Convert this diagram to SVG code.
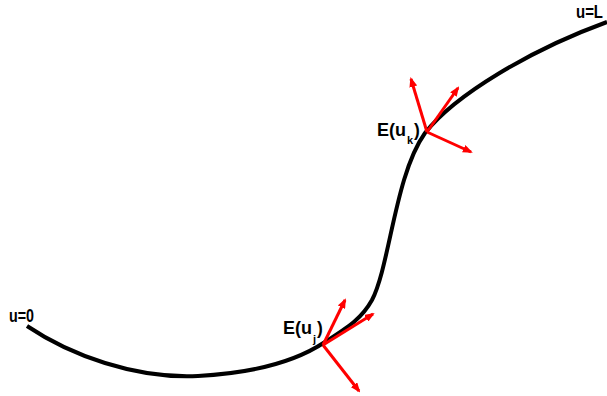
<svg xmlns="http://www.w3.org/2000/svg" width="607" height="396" viewBox="0 0 607 396">
<style>
.curve{fill:none;stroke:#000;stroke-width:4;stroke-linecap:butt}
.ax{stroke:#f00;stroke-width:3;fill:none}
text{font-family:"Liberation Sans",Arial,sans-serif;font-weight:bold;fill:#000;font-size:17.5px}
.sub{font-size:11px}
</style>
<defs>
<marker id="ah" markerWidth="10" markerHeight="8" refX="8" refY="4" orient="auto" markerUnits="userSpaceOnUse">
<path d="M0,0 L10,4 L0,8 z" fill="#f00"/>
</marker>
</defs>
<g id="connectors">
<path class="curve" d="M27,326 C70,355 135,379 198,376 C255,373 295,362 325,342 C350,326 362,318 372,300 C390,265 395,175 425,133 C455,95 530,50 607,22"/>
</g>
<g id="frame-j">
<line class="ax" x1="323" y1="345" x2="345" y2="300" marker-end="url(#ah)"/>
<line class="ax" x1="323" y1="345" x2="373" y2="314" marker-end="url(#ah)"/>
<line class="ax" x1="323" y1="345" x2="359" y2="391" marker-end="url(#ah)"/>
</g>
<g id="frame-k">
<line class="ax" x1="427" y1="132" x2="411" y2="79" marker-end="url(#ah)"/>
<line class="ax" x1="427" y1="132" x2="458" y2="88" marker-end="url(#ah)"/>
<line class="ax" x1="427" y1="132" x2="471" y2="152" marker-end="url(#ah)"/>
</g>
<g id="label-j"><text x="283" y="334"><tspan textLength="29" lengthAdjust="spacingAndGlyphs">E(u</tspan><tspan class="sub" x="313" y="343">j</tspan><tspan x="317" y="334">)</tspan></text></g>
<g id="label-k"><text x="377" y="136"><tspan textLength="29" lengthAdjust="spacingAndGlyphs">E(u</tspan><tspan class="sub" x="407" y="144">k</tspan><tspan x="414" y="136">)</tspan></text></g>
<g id="label-start"><text x="9" y="322" textLength="25" lengthAdjust="spacingAndGlyphs">u=0</text></g>
<g id="label-end"><text x="576" y="18" textLength="27" lengthAdjust="spacingAndGlyphs">u=L</text></g>
</svg>
